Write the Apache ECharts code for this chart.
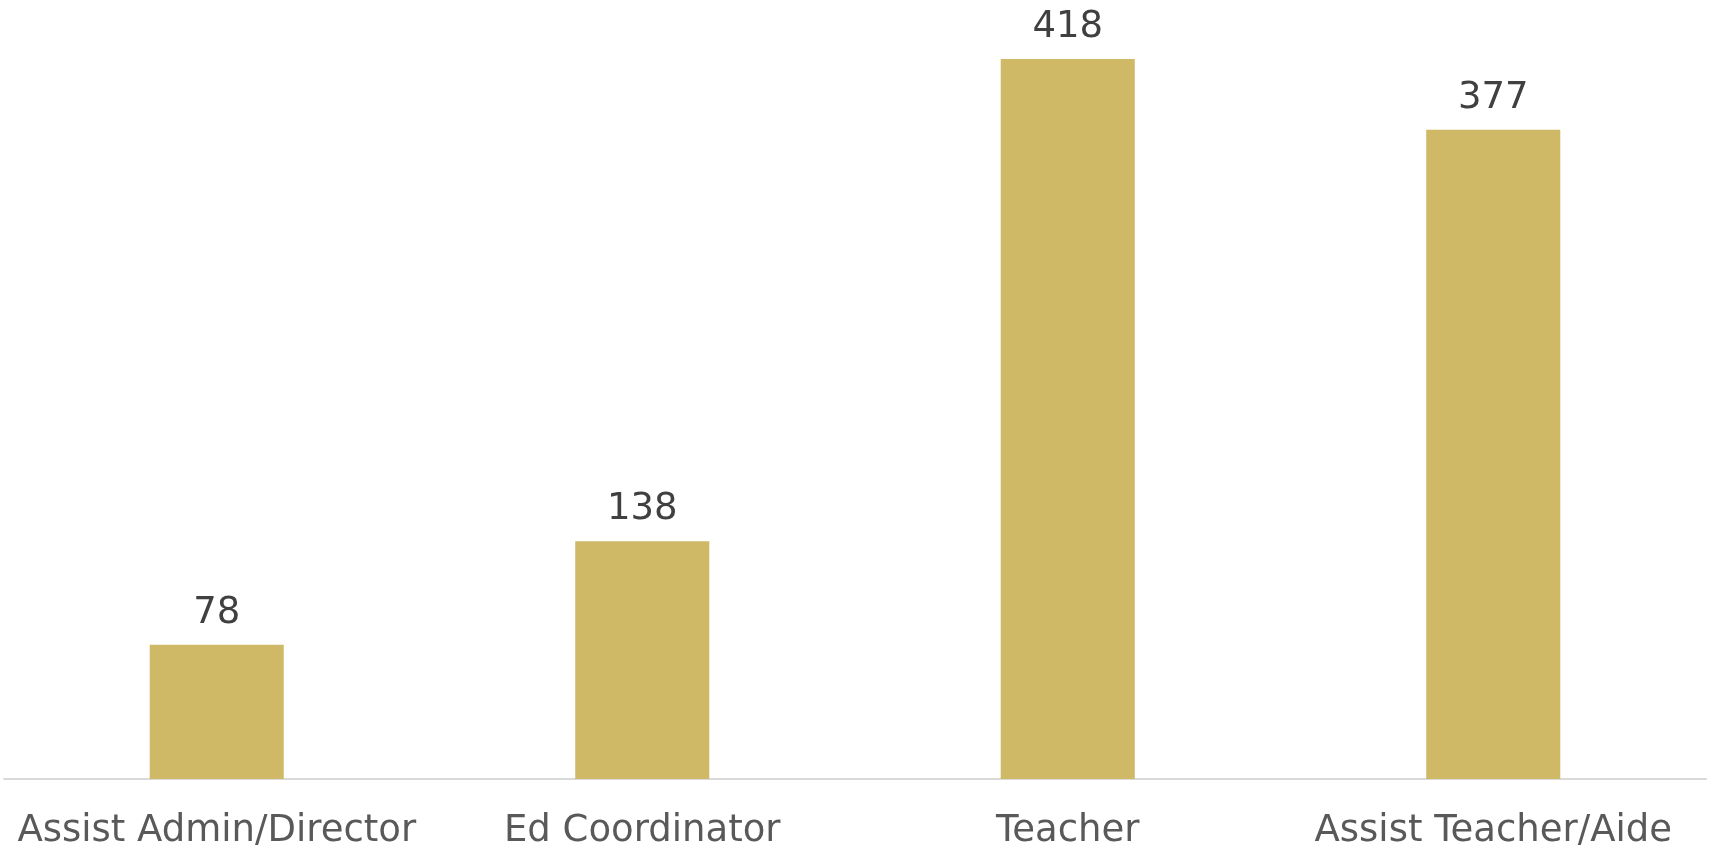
<!DOCTYPE html>
<html>
<head>
<meta charset="utf-8">
<style>
  html, body { margin: 0; padding: 0; background: #ffffff; }
  #chart { width: 1709px; height: 850px; }
</style>
<script src="https://cdn.jsdelivr.net/npm/echarts@6/dist/echarts.min.js"></script>
</head>
<body>
<div id="chart"></div>
<script>
// Staff counts by role
const categories = ['Assist Admin/Director', 'Ed Coordinator', 'Teacher', 'Assist Teacher/Aide'];
const counts = [78, 138, 418, 377];

const chart = echarts.init(document.getElementById('chart'), null, { renderer: 'canvas' });

chart.setOption({
  animation: false,
  backgroundColor: '#ffffff',
  grid: { left: 4, right: 3, top: 4, bottom: 70, containLabel: false },
  xAxis: {
    type: 'category',
    data: categories,
    axisLine: { show: true, lineStyle: { color: '#d9d9d9', width: 2 } },
    axisTick: { show: false },
    axisLabel: {
      color: '#595959',
      fontFamily: 'DejaVu Sans',
      fontSize: 37,
      margin: 34,
      interval: 0
    }
  },
  yAxis: {
    type: 'value',
    min: 0,
    max: 450,
    show: false,
    splitLine: { show: false }
  },
  series: [{
    type: 'bar',
    data: counts,
    barWidth: '31.5%',
    itemStyle: { color: '#CFB966' },
    label: {
      show: true,
      position: 'top',
      distance: 13,
      color: '#404040',
      fontFamily: 'DejaVu Sans',
      fontSize: 37
    }
  }]
});
</script>
</body>
</html>
